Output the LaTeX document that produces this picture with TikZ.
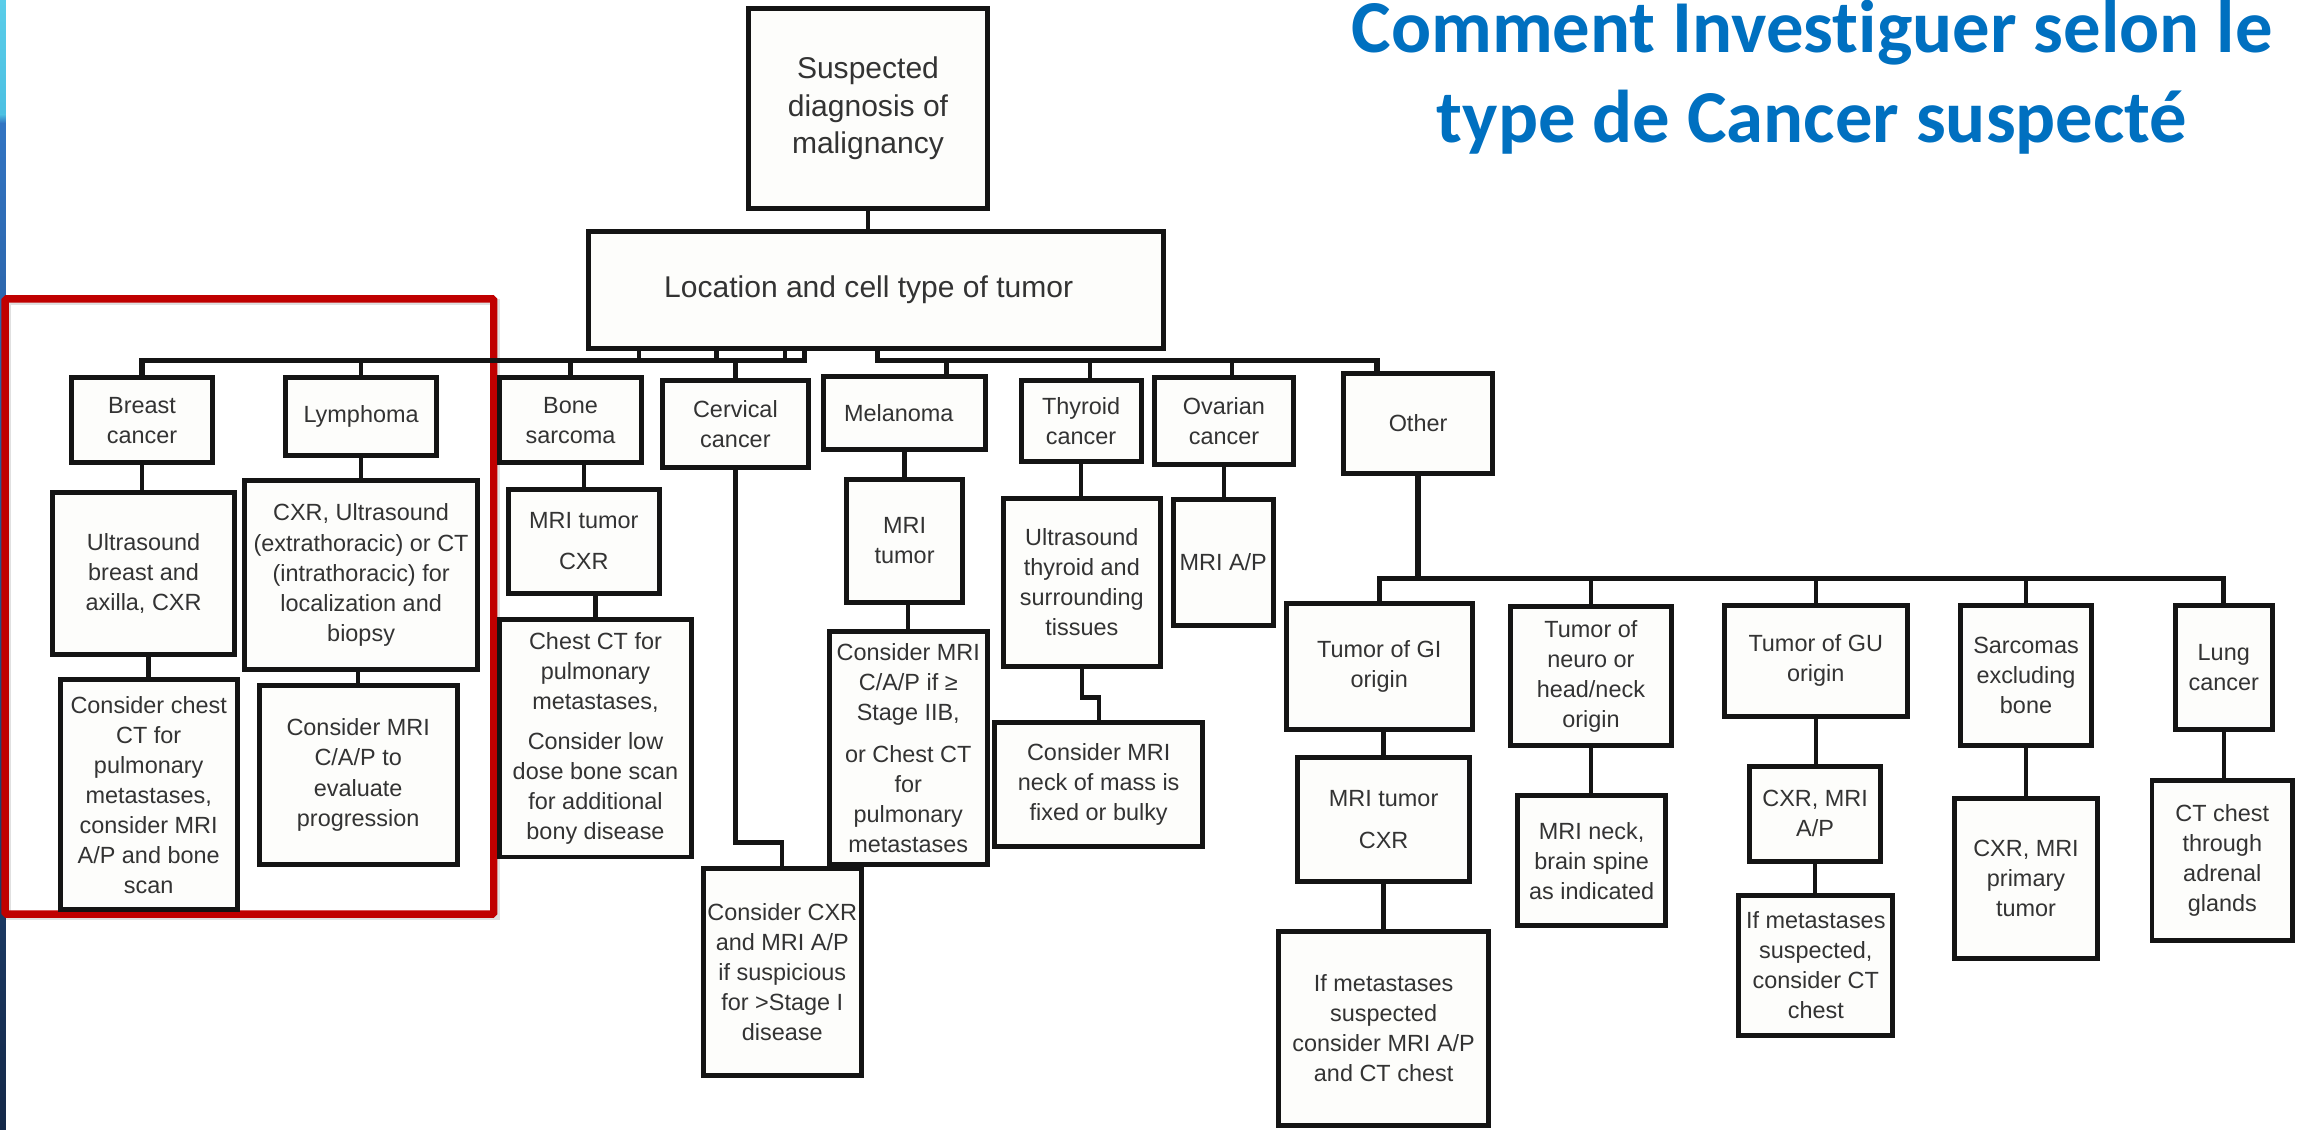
\documentclass[tikz,border=0pt]{standalone}
\usepackage{fontspec}
\setmainfont{Liberation Sans}[Ligatures=NoCommon]
\newfontfamily\titlefont{Carlito}[Ligatures=NoCommon]
\definecolor{boxline}{HTML}{141414}
\definecolor{boxfill}{HTML}{FDFDFB}
\definecolor{txt}{HTML}{333333}
\definecolor{titleblue}{HTML}{0070C0}
\definecolor{redframe}{HTML}{C00000}
\definecolor{barA}{HTML}{5ACDE9}
\definecolor{barA2}{HTML}{4CC0E2}
\definecolor{barB}{HTML}{3274C2}
\definecolor{barC}{HTML}{142848}
\tikzset{
  box/.style 2 args={draw=boxline, line width=3.4pt, fill=boxfill,
    minimum width=#1pt, minimum height=#2pt, inner sep=0pt, align=center,
    text=txt, font=\fontsize{16}{20.5}\selectfont},
  bigtext/.style={font=\fontsize{20.5}{25.5}\selectfont},
  conn/.style={draw=boxline, line width=3pt},
  busline/.style={draw=boxline, line width=3.6pt},
  titletext/.style={text=titleblue, font=\titlefont\bfseries\fontsize{51}{61}\selectfont, inner sep=0pt}
}
\begin{document}
\begin{tikzpicture}[x=1pt,y=-1pt]
\useasboundingbox (0,0) rectangle (1568,771);
\fill[white] (0,0) rectangle (1568,771);
% left gradient bar
\shade[top color=barA, bottom color=barA2] (0,0) rectangle (4,78);
\shade[top color=barA2, bottom color=barB] (0,78) rectangle (4,84);
\shade[top color=barB, bottom color=barC] (0,84) rectangle (4,771);

% title
\node[titletext, anchor=base] (t1) at (1237,36) {Comment Investiguer selon le};
\node[titletext, anchor=base] (t2) at (1237,97) {type de Cancer suspecté};

% red frame with faint shadow
\draw[black, opacity=0.12, line width=4pt] (5.5,206) rectangle (339,626);
\draw[redframe, line width=5pt, rounded corners=1pt] (3.5,204) rectangle (337,624);

% top nodes
\node[box={163}{136}, bigtext] (top) at (592.5,74) {Suspected\\diagnosis of\\malignancy};
\node[box={392}{80}, bigtext] (loc) at (598,198) {Location and cell type of tumor\hspace*{10pt}};

% first level
\node[box={96}{58}] (breast) at (97,287) {Breast\\cancer};
\node[box={103}{53}] (lymph) at (246.5,284.5) {Lymphoma};
\node[box={97}{58}] (bone) at (389.5,287) {Bone\\sarcoma};
\node[box={100}{59}] (cerv) at (502,289.5) {Cervical\\cancer};
\node[box={111}{50}] (mel) at (617.5,282) {Melanoma\hspace*{8pt}};
\node[box={82}{55}] (thy) at (738,287.5) {Thyroid\\cancer};
\node[box={95}{59}] (ova) at (835.5,287.5) {Ovarian\\cancer};
\node[box={102}{68}] (other) at (968,289) {Other};

% breast column
\node[box={124}{111}] (us1) at (98,391.5) {Ultrasound\\breast and\\axilla, CXR};
\node[box={121}{157}] (cc1) at (101.5,542.5) {Consider chest\\CT for\\pulmonary\\metastases,\\consider MRI\\A/P and bone\\scan};
% lymphoma column
\node[box={159}{129}] (ly2) at (246.5,392.5) {CXR, Ultrasound\\(extrathoracic) or CT\\(intrathoracic) for\\localization and\\biopsy};
\node[box={135}{122}] (cm1) at (244.5,529) {Consider MRI\\C/A/P to\\evaluate\\progression};
% bone column
\node[box={103}{71}] (mt1) at (398.5,369.5) {MRI tumor\\[7.5pt]CXR};
\node[box={131}{162}] (ct1) at (406.5,504) {Chest CT for\\pulmonary\\metastases,\\[6.5pt]Consider low\\dose bone scan\\for additional\\bony disease};
% cervical
\node[box={108}{141}] (cxr) at (534,663.5) {Consider CXR\\and MRI A/P\\if suspicious\\for >Stage I\\disease};
% melanoma column
\node[box={79}{84}] (mt2) at (617.5,369) {MRI\\tumor};
\node[box={108}{159}] (cm2) at (620,510.5) {Consider MRI\\C/A/P if ≥\\Stage IIB,\\[8pt]or Chest CT\\for\\pulmonary\\metastases};
% thyroid column
\node[box={107}{115}] (ust) at (738.5,397.5) {Ultrasound\\thyroid and\\surrounding\\tissues};
\node[box={142}{85}] (cmn) at (750,535.5) {Consider MRI\\neck of mass is\\fixed or bulky};
% ovarian
\node[box={68}{86}] (mri) at (835,384) {MRI A/P};

% other branch
\node[box={127}{86}] (gi) at (941.5,455) {Tumor of GI\\origin};
\node[box={117}{85}] (mt3) at (944.5,559.5) {MRI tumor\\[8.5pt]CXR};
\node[box={143}{132}] (im1) at (944.5,702) {If metastases\\suspected\\consider MRI A/P\\and CT chest};
\node[box={110}{95}] (neu) at (1086,461.5) {Tumor of\\neuro or\\head/neck\\origin};
\node[box={101}{89}] (mn) at (1086.5,587.5) {MRI neck,\\brain spine\\as indicated};
\node[box={125}{76}] (gu) at (1239.5,451) {Tumor of GU\\origin};
\node[box={90}{65}] (cm3) at (1239,555.5) {CXR, MRI\\A/P};
\node[box={105}{96}] (im2) at (1239.5,659) {If metastases\\suspected,\\consider CT\\chest};
\node[box={90}{96}] (sar) at (1383,461) {Sarcomas\\excluding\\bone};
\node[box={98}{109}] (cm4) at (1383,599.5) {CXR, MRI\\primary\\tumor};
\node[box={66}{85}] (lung) at (1518,455.5) {Lung\\cancer};
\node[box={96}{109}] (ctc) at (1517,587.5) {CT chest\\through\\adrenal\\glands};

% bus coordinates
\coordinate (lb) at (549,246);
\coordinate (s1) at (436,246);
\coordinate (s2) at (489,246);
\coordinate (s3) at (536,246);
\coordinate (rb) at (599,246);
\coordinate (rbe) at (940,246);
\coordinate (md) at (646,246);
\coordinate (td) at (744,246);
\coordinate (od) at (841,246);
\coordinate (ob) at (968,395);
\coordinate (cb) at (502,575);
\coordinate (tb) at (738,476);

% connectors
\draw[conn] (top.south) -- (top.south |- loc.north);
\draw[busline] (breast.north) |- (lb) -- (loc.south -| lb);
\draw[conn] (loc.south -| s1) -- (s1);
\draw[conn] (loc.south -| s2) -- (s2);
\draw[conn] (loc.south -| s3) -- (s3);
\draw[conn] (lymph.north) -- (lymph.north |- lb);
\draw[conn] (bone.north) -- (bone.north |- lb);
\draw[conn] (cerv.north) -- (cerv.north |- lb);
\draw[busline] (loc.south -| rb) -- (rb) -- (rbe) -- (rbe |- other.north);
\draw[conn] (md) -- (md |- mel.north);
\draw[conn] (td) -- (td |- thy.north);
\draw[conn] (od) -- (od |- ova.north);

\draw[conn] (breast.south) -- (breast.south |- us1.north);
\draw[conn] (cc1.north) -- (cc1.north |- us1.south);
\draw[conn] (lymph.south) -- (lymph.south |- ly2.north);
\draw[conn] (cm1.north) -- (cm1.north |- ly2.south);
\draw[conn] (mt1.north) -- (mt1.north |- bone.south);
\draw[conn] (ct1.north) -- (ct1.north |- mt1.south);
\draw[conn] (cerv.south) |- (cxr.north |- cb) -- (cxr.north);
\draw[conn] (mt2.north) -- (mt2.north |- mel.south);
\draw[conn] (cm2.north) -- (cm2.north |- mt2.south);
\draw[conn] (thy.south) -- (thy.south |- ust.north);
\draw[conn] (ust.south) |- (cmn.north |- tb) -- (cmn.north);
\draw[conn] (ova.south) -- (ova.south |- mri.north);

\draw[busline] (other.south) -- (ob);
\draw[busline] (gi.north) |- (lung.north |- ob) -- (lung.north);
\draw[conn] (neu.north) -- (neu.north |- ob);
\draw[conn] (gu.north) -- (gu.north |- ob);
\draw[conn] (sar.north) -- (sar.north |- ob);
\draw[conn] (mt3.north) -- (mt3.north |- gi.south);
\draw[conn] (im1.north) -- (im1.north |- mt3.south);
\draw[conn] (neu.south) -- (neu.south |- mn.north);
\draw[conn] (gu.south) -- (gu.south |- cm3.north);
\draw[conn] (cm3.south) -- (cm3.south |- im2.north);
\draw[conn] (sar.south) -- (sar.south |- cm4.north);
\draw[conn] (lung.south) -- (lung.south |- ctc.north);
\end{tikzpicture}
\end{document}
